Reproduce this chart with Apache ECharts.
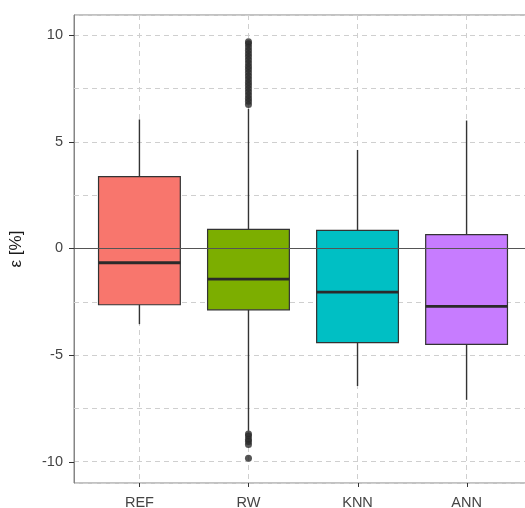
<!DOCTYPE html>
<html><head><meta charset="utf-8">
<script src="https://cdn.jsdelivr.net/npm/echarts@6/dist/echarts.min.js"></script>
<style>html,body{margin:0;padding:0;background:#fff}#c{width:525px;height:508px}</style>
</head><body><div id="c"></div>
<script>
const categories = ['REF', 'RW', 'KNN', 'ANN'];
const colors = ['#F8766D', '#7CAE00', '#00BFC4', '#C77CFF'];
const whiskerMin = [-3.55, -8.55, -6.45, -7.1];
const q1 = [-2.64, -2.88, -4.42, -4.5];
const medians = [-0.67, -1.44, -2.05, -2.72];
const q3 = [3.37, 0.9, 0.85, 0.65];
const whiskerMax = [6.05, 6.55, 4.62, 6.0];
const rwOutliersHigh = [6.75, 6.9, 7.05, 7.2, 7.35, 7.5, 7.65, 7.8, 7.95, 8.1, 8.25, 8.4, 8.55, 8.7, 8.85, 9.0, 9.15, 9.3, 9.45, 9.6, 9.7];
const rwOutliersLow = [-8.7, -8.8, -8.95, -9.05, -9.2, -9.84];
const yTickValues = [-10, -5, 0, 5, 10];
const minorGrid = [-7.5, -2.5, 2.5, 7.5];
const xPositions = [1, 2, 3, 4];
const xMin = 0.4, xMax = 4.6, yMin = -11.0, yMax = 10.95;

const FONT = "'Liberation Sans', Arial, sans-serif";
const chart = echarts.init(document.getElementById('c'), null, {renderer: 'canvas'});

const boxData = categories.map((c, i) => [xPositions[i], whiskerMin[i], q1[i], medians[i], q3[i], whiskerMax[i]]);
const outlierData = rwOutliersHigh.concat(rwOutliersLow).map(v => [xPositions[1], v]);

const gridLineStyle = {color: '#cfcfcf', width: 1, type: [5, 4]};

chart.setOption({
  animation: false,
  backgroundColor: '#ffffff',
  grid: {left: 74, top: 15, right: -7, bottom: 25, show: true, borderColor: '#858585', borderWidth: 1, backgroundColor: '#ffffff', outerBoundsMode: 'none', containLabel: false},
  xAxis: {
    type: 'value', min: xMin, max: xMax,
    axisLine: {show: true, lineStyle: {color: '#858585', width: 1}},
    axisTick: {show: false},
    axisLabel: {showMinLabel: false, showMaxLabel: false, formatter: v => categories[xPositions.indexOf(v)] || '', color: '#454545', fontSize: 14.5, fontFamily: FONT, margin: 12},
    splitLine: {show: true, lineStyle: gridLineStyle}
  },
  yAxis: {
    type: 'value', min: yMin, max: yMax,
    name: 'ε [%]', nameLocation: 'middle', nameGap: 49,
    nameTextStyle: {fontSize: 17, color: '#1a1a1a', fontFamily: FONT},
    axisLine: {show: true, lineStyle: {color: '#858585', width: 1}},
    axisTick: {show: false},
    axisLabel: {showMinLabel: false, showMaxLabel: false, formatter: v => (yTickValues.indexOf(v) >= 0 ? String(v) : ''), color: '#454545', fontSize: 14.5, fontFamily: FONT, margin: 11},
    splitLine: {show: true, lineStyle: gridLineStyle}
  },
  series: [
    {
      type: 'custom', z: 2,
      data: boxData,
      encode: {x: 0, y: [1, 2, 3, 4, 5]},
      renderItem: function (params, api) {
        const x = api.value(0);
        const lo = api.coord([x, api.value(1)]);
        const b1 = api.coord([x, api.value(2)]);
        const md = api.coord([x, api.value(3)]);
        const b3 = api.coord([x, api.value(4)]);
        const hi = api.coord([x, api.value(5)]);
        const w = api.size([0.75, 0])[0];
        const c = colors[params.dataIndex];
        const ls = {stroke: '#333333', lineWidth: 1.4};
        return {type: 'group', children: [
          {type: 'line', shape: {x1: lo[0], y1: lo[1], x2: b1[0], y2: b1[1]}, style: ls},
          {type: 'line', shape: {x1: b3[0], y1: b3[1], x2: hi[0], y2: hi[1]}, style: ls},
          {type: 'rect', shape: {x: b3[0] - w / 2, y: b3[1], width: w, height: b1[1] - b3[1]}, style: {fill: c, stroke: '#333333', lineWidth: 1.2}},
          {type: 'line', shape: {x1: md[0] - w / 2, y1: md[1], x2: md[0] + w / 2, y2: md[1]}, style: {stroke: '#2a2a2a', lineWidth: 2.8}}
        ]};
      },
      markLine: {
        silent: true, symbol: 'none', z: 1, animation: false,
        label: {show: false},
        lineStyle: gridLineStyle,
        data: minorGrid.map(v => ({yAxis: v}))
      }
    },
    {
      type: 'scatter', z: 3,
      symbol: 'circle', symbolSize: 7,
      itemStyle: {color: '#2b2b2b'},
      data: outlierData,
      markLine: {
        silent: true, symbol: 'none', z: 6, animation: false,
        label: {show: false},
        lineStyle: {color: '#555555', width: 1, type: 'solid'},
        data: [{yAxis: 0}]
      }
    }
  ]
});

// axis tick marks, positioned through the chart's own scales
const tickElements = [];
yTickValues.forEach(v => {
  const p = chart.convertToPixel({gridIndex: 0}, [xMin, v]);
  const y = Math.round(p[1]) + 0.5;
  tickElements.push({type: 'line', silent: true, z: 10, shape: {x1: p[0] - 5, y1: y, x2: p[0], y2: y}, style: {stroke: '#333333', lineWidth: 1}});
});
xPositions.forEach(v => {
  const p = chart.convertToPixel({gridIndex: 0}, [v, yMin]);
  const x = Math.round(p[0]) + 0.5;
  tickElements.push({type: 'line', silent: true, z: 10, shape: {x1: x, y1: p[1], x2: x, y2: p[1] + 4}, style: {stroke: '#333333', lineWidth: 1}});
});
chart.setOption({graphic: {elements: tickElements}});
</script></body></html>
